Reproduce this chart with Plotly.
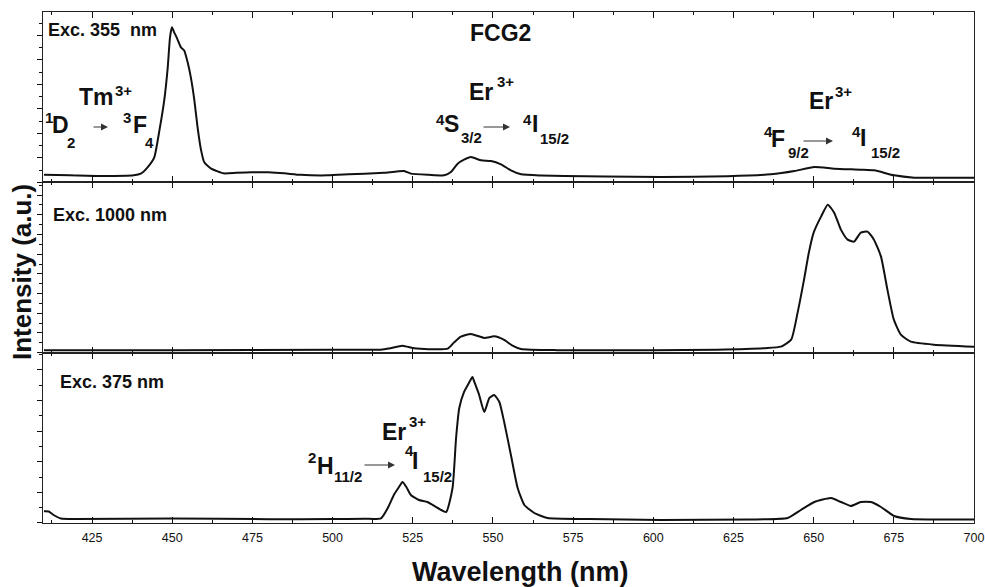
import plotly.graph_objects as go
from plotly.subplots import make_subplots

# ---------------- data ----------------
# Exc. 355 nm (top panel)
wl_355 = [410, 418, 428, 438, 440.2, 442.3, 444.4, 446, 447.5, 448.6, 449.3, 449.9, 450.6, 451.5,
          452.7, 453.7, 454.8, 455.8, 456.9, 457.9, 459, 460, 462, 466, 470, 474.5, 480, 485, 490,
          498.5, 505, 510, 516, 522.3, 524.4, 530, 534.8, 536.9, 539, 541, 543.1, 546.3, 549.4,
          552.5, 555.6, 558.8, 565, 572.3, 585, 602.4, 623.2, 636.7, 644, 650.2, 656.4, 664.7,
          668.9, 675.1, 681.4, 690, 700]
int_355 = [7.5, 7, 6.3, 7, 8.7, 15, 25, 52, 82, 115, 145, 155, 150, 144,
           135, 132, 120, 105, 82, 55, 32, 20, 14, 9, 9.5, 10, 10, 9, 7.5,
           7, 8, 8.7, 9.5, 11.3, 8.7, 7.5, 7, 10.3, 18.7, 22.7, 25.3, 22, 21.3,
           18, 12, 8, 6.8, 6.3, 5.8, 5.3, 6, 8, 11.3, 15.3, 13.7, 12.7,
           12, 7, 4.7, 4.5, 4.5]

# Exc. 1000 nm (middle panel)
wl_1000 = [410, 450, 500, 515, 518, 521.8, 525.5, 530, 535.9, 537.9, 540, 543.1, 547.3, 550.4,
           553.5, 556.1, 558.7, 570, 600, 620, 635, 639.8, 643, 645, 647, 648.5, 650, 652.3,
           654.4, 656.4, 658.5, 660.6, 662.6, 664.7, 666.8, 668.8, 671, 673, 675, 677.2,
           680.3, 687.5, 700]
int_1000 = [2.5, 2.5, 3, 3, 4.5, 7, 4.3, 3.5, 4, 10.3, 16, 18.7, 14.7, 16.3,
            12.7, 7, 3.7, 2.5, 2.5, 3, 4.5, 6, 13, 40, 73, 100, 120, 136,
            148, 140, 123, 113, 111, 120, 121, 113, 96, 63, 33, 18,
            11, 8, 6]

# Exc. 375 nm (bottom panel)
wl_375 = [410, 411.5, 413, 415.3, 420, 450, 480, 500, 510, 515.1, 517.2, 519.1, 520.5, 521.8,
          523, 524.4, 526.9, 529.6, 532.8, 535.4, 537.4, 538.5, 539.5, 541, 542.5, 543.6,
          544.2, 545.7, 547.3, 548.9, 550.4, 552, 553.5, 555.6, 557.7, 559.8, 562.9, 567,
          580, 602.4, 630, 641.9, 646, 650.2, 655.4, 658.5, 661.6, 664.7, 667.9, 671,
          675.1, 680.3, 690, 700]
int_375 = [11.7, 11.5, 8, 4.5, 4, 4.5, 3.8, 4, 4.2, 4.7, 15, 28, 35, 41,
           36, 28, 23, 21, 15, 11, 35, 85, 115, 131, 140, 146,
           141, 128, 111, 125, 128, 121, 101, 68, 35, 18, 10, 5,
           4, 3, 3.5, 5, 13, 21, 25, 21, 17, 21, 21, 16,
           7, 4, 3.5, 3.5]

x_ticks = [425, 450, 475, 500, 525, 550, 575, 600, 625, 650, 675, 700]

# ---------------- figure ----------------
FONT = "Liberation Sans, Arial, Helvetica, sans-serif"
INK = "#111111"
W, H = 985, 587
L, R, T, B = 43, 11, 12, 64
PW, PH = W - L - R, H - T - B

fig = make_subplots(rows=3, cols=1, shared_xaxes=False, vertical_spacing=0)
for row, (wl, iv) in enumerate([(wl_355, int_355), (wl_1000, int_1000), (wl_375, int_375)], start=1):
    fig.add_trace(go.Scatter(x=wl, y=iv, mode="lines",
                             line=dict(color=INK, width=2, shape="spline", smoothing=0.5),
                             showlegend=False, hoverinfo="skip"), row=row, col=1)

ydticks = [24.5, 19.7, 30.6]
for row in (1, 2, 3):
    fig.update_xaxes(row=row, col=1, range=[409.7, 700], tickmode="array", tickvals=x_ticks,
                     ticktext=[str(v) for v in x_ticks], showticklabels=(row == 3),
                     ticks="inside", ticklen=6, tickwidth=1, tickcolor=INK,
                     minor=dict(tickmode="linear", tick0=400, dtick=12.5, ticks="inside",
                                ticklen=3, tickwidth=1, tickcolor=INK),
                     showline=True, linecolor="#222", linewidth=1, mirror="ticks",
                     showgrid=False, zeroline=False, automargin=False,
                     tickfont=dict(family=FONT, size=12.5, color=INK), ticklabelstandoff=3)
    fig.update_yaxes(row=row, col=1, range=[0, 170.3], showticklabels=False,
                     tickmode="linear", tick0=0, dtick=ydticks[row - 1],
                     ticks="outside", ticklen=5, tickwidth=1, tickcolor=INK,
                     minor=dict(tickmode="linear", tick0=0, dtick=ydticks[row - 1] / 2,
                                ticks="outside", ticklen=3, tickwidth=1, tickcolor=INK),
                     showline=True, linecolor="#222", linewidth=1, mirror=True,
                     showgrid=False, zeroline=False, automargin=False)

fig.update_layout(yaxis=dict(domain=[2 / 3, 1]), yaxis2=dict(domain=[1 / 3, 2 / 3]),
                  yaxis3=dict(domain=[0, 1 / 3]))


def px2paper(x, y):
    return (x - L) / PW, (H - B - y) / PH


annots = []


def txt(s, x, y, size, anchor="left", bold=True, angle=0):
    px, py = px2paper(x, y)
    annots.append(dict(text=s if not bold else "<b>" + s + "</b>", x=px, y=py, xref="paper",
                       yref="paper", xanchor=anchor, yanchor="middle", showarrow=False,
                       textangle=angle, borderpad=0,
                       font=dict(family=FONT, size=size, color=INK)))


def arrow(x0, x1, y):
    hx, hy = px2paper(x1, y)
    annots.append(dict(text="", x=hx, y=hy, xref="paper", yref="paper", showarrow=True,
                       ax=-(x1 - x0), ay=0, axref="pixel", ayref="pixel",
                       arrowhead=2, arrowsize=1.4, arrowwidth=1, arrowcolor="#333"))


MAIN, SMALL = 23, 15
# excitation labels and title
txt("Exc. 355  nm", 47, 30.5, 18)
txt("Exc. 1000 nm", 52, 215, 18)
txt("Exc. 375 nm", 59, 381.5, 18)
txt("FCG2", 500, 33, 23, anchor="center")

# Tm3+  1D2 -> 3F4
txt("Tm", 78, 97, MAIN); txt("3+", 114, 90, SMALL)
txt("1", 43.5, 117.5, SMALL); txt("D", 51, 125, MAIN); txt("2", 66, 142, SMALL)
arrow(92, 108, 127)
txt("3", 122, 117.5, SMALL); txt("F", 131.5, 125, MAIN); txt("4", 144, 142, SMALL)

# Er3+  4S3/2 -> 4I15/2
txt("Er", 468, 91.5, MAIN); txt("3+", 496, 81, SMALL)
txt("4", 435, 119, SMALL); txt("S", 443, 124.5, MAIN); txt("3/2", 460, 137.5, SMALL)
arrow(482, 510, 127)
txt("4", 521.5, 119, SMALL); txt("I", 530.5, 124, MAIN); txt("15/2", 539, 138, SMALL)

# Er3+  4F9/2 -> 4I15/2
txt("Er", 808, 101, MAIN); txt("3+", 834, 91, SMALL)
txt("4", 762.5, 131, SMALL); txt("F", 770, 139, MAIN); txt("9/2", 787, 152, SMALL)
arrow(802, 833, 141)
txt("4", 850.5, 131, SMALL); txt("I", 858.5, 137.5, MAIN); txt("15/2", 870, 152, SMALL)

# Er3+  2H11/2 -> 4I15/2
txt("Er", 381, 431.5, MAIN); txt("3+", 408, 421, SMALL)
txt("2", 307, 457, SMALL); txt("H", 316, 466, MAIN); txt("11/2", 333, 476, SMALL)
arrow(363, 395, 465)
txt("4", 403.5, 450, SMALL); txt("I", 410.5, 461, MAIN); txt("15/2", 422, 476, SMALL)

# axis titles
txt("Wavelength (nm)", 520, 572, 27, anchor="center")
txt("Intensity (a.u.)", 22, 272, 26, anchor="center", angle=-90)

fig.update_layout(annotations=annots, width=W, height=H,
                  margin=dict(l=L, r=R, t=T, b=B, pad=0, autoexpand=False),
                  paper_bgcolor="white", plot_bgcolor="white",
                  font=dict(family=FONT, color=INK))

fig.write_html("out.html", config={"displayModeBar": False},
               post_script="document.body.style.margin='0';document.body.style.overflow='hidden';")
